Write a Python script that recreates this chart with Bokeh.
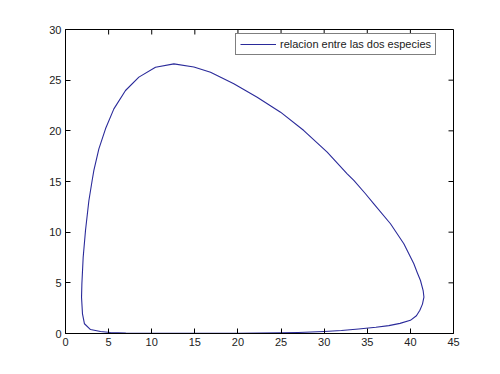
import math
from bokeh.plotting import figure
from bokeh.models import LinearAxis, Range1d, FixedTicker, Legend, LegendItem
from bokeh.embed import file_html
from bokeh.resources import INLINE

# Phase trajectory (prey on x, predators on y)
prey = [5.2, 7.0, 10.0, 15.0, 20.0, 25.0, 27.0, 30.0, 32.0, 34.0, 36.0, 37.5,
        38.8, 40.0, 40.7, 41.1, 41.4, 41.57, 41.48, 41.17, 40.8, 40.4, 39.24,
        37.69, 35.76, 34.79, 33.44, 32.67, 30.35, 27.64, 24.94, 22.23, 19.52,
        16.82, 14.89, 12.57, 10.44, 8.51, 6.96, 5.61, 4.64, 3.87, 3.29, 3.09,
        2.71, 2.32, 2.05, 1.9, 1.86, 1.97, 2.2, 2.9, 4.06, 5.2]
predators = [0.1, 0.05, 0.03, 0.02, 0.03, 0.06, 0.1, 0.2, 0.3, 0.45, 0.62, 0.78,
             1.0, 1.3, 1.75, 2.3, 2.9, 3.6, 4.24, 5.23, 6.0, 6.88, 8.85,
             10.83, 12.8, 13.79, 15.1, 15.76, 17.89, 20.03, 21.84, 23.32, 24.64,
             25.79, 26.3, 26.61, 26.28, 25.3, 23.98, 22.17, 20.2, 18.22, 16.09, 15.1,
             13.1, 10.16, 7.53, 4.9, 3.58, 1.94, 0.96, 0.39, 0.2, 0.1]
x_ticks = [0, 5, 10, 15, 20, 25, 30, 35, 40, 45]
y_ticks = [0, 5, 10, 15, 20, 25, 30]
legend_label = "relacion entre las dos especies"

FONT = "Liberation Sans"
TXT = "#222222"
X0, X1, Y0, Y1 = 0, 45, 0, 30

p = figure(width=500, height=374, output_backend="svg", toolbar_location=None,
           x_range=Range1d(X0, X1), y_range=Range1d(Y0, Y1),
           min_border_left=65, min_border_right=47, min_border_top=29,
           min_border_bottom=41, x_axis_location=None, y_axis_location=None)
p.background_fill_color = "white"
p.border_fill_color = "white"
p.outline_line_color = "black"
p.outline_line_width = 1
p.grid.visible = False

for loc, ticks in [("below", x_ticks), ("left", y_ticks)]:
    ax = LinearAxis(ticker=FixedTicker(ticks=ticks))
    ax.major_tick_in = 5
    ax.major_tick_out = 0
    ax.minor_tick_line_color = None
    ax.axis_line_color = "black"
    ax.major_tick_line_color = "black"
    ax.major_label_text_font = FONT
    ax.major_label_text_font_size = "11px"
    ax.major_label_text_color = TXT
    ax.major_label_standoff = 4
    p.add_layout(ax, loc)

# inward ticks on the top and right edges of the box
p.ray(x=x_ticks, y=[Y1] * len(x_ticks), length=5, length_units="screen",
      angle=-math.pi / 2, line_color="black", line_width=1)
p.ray(x=[X1] * len(y_ticks), y=y_ticks, length=5, length_units="screen",
      angle=math.pi, line_color="black", line_width=1)

r = p.line(prey, predators, line_color="#2a2a9a", line_width=1.1,
           line_join="round")

legend = Legend(items=[LegendItem(label=legend_label, renderers=[r])],
                location=(170, 278))
legend.border_line_color = "black"
legend.border_line_width = 1
legend.background_fill_color = "white"
legend.background_fill_alpha = 1
legend.margin = 0
legend.padding = 4
legend.spacing = 0
legend.glyph_width = 36
legend.glyph_height = 12
legend.label_height = 12
legend.label_standoff = 4
legend.label_text_font = FONT
legend.label_text_font_size = "11px"
legend.label_text_color = TXT
p.add_layout(legend)

open("out.html", "w").write(file_html(p, INLINE))
